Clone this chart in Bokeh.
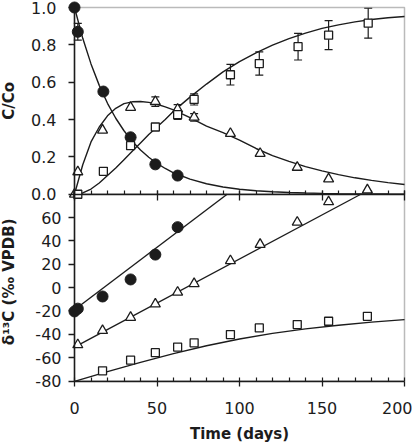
import math
from bokeh.plotting import figure
from bokeh.models import (Range1d, FixedTicker, PrintfTickFormatter, Whisker, TeeHead,
                          ColumnDataSource, Label, LinearAxis, BoxAnnotation)
from bokeh.embed import file_html
from bokeh.resources import INLINE

# ---------------- data ----------------
# top panel: C/Co
t_circ_top = [0, 2, 17.5, 34, 49, 62.5]
c_circ = [1.0, 0.87, 0.55, 0.305, 0.16, 0.10]
c_circ_err = [0, 0.045, 0, 0, 0, 0]

t_tri_top = [0, 2, 17, 34, 49, 62.5, 72.5, 94.5, 112.5, 135, 154, 177.5]
c_tri = [0.0, 0.12, 0.343, 0.465, 0.496, 0.455, 0.412, 0.325, 0.218, 0.144, 0.082, 0.023]
c_tri_err = [0, 0, 0, 0, 0.025, 0.025, 0.02, 0, 0, 0, 0, 0]

t_sq_top = [2, 17.5, 34, 49, 62.5, 72.5, 94.5, 112, 135.5, 154, 178]
c_sq = [0.0, 0.123, 0.26, 0.36, 0.426, 0.508, 0.64, 0.70, 0.79, 0.852, 0.916]
c_sq_err = [0, 0, 0, 0, 0.025, 0.03, 0.055, 0.062, 0.071, 0.078, 0.08]

# model curves
t_fit = [0, 5, 10, 15, 20, 25, 30, 35, 40, 45, 50, 55, 60,
         70, 80, 90, 100, 110, 120, 130, 140, 150, 160, 170, 180, 190, 200]
fit_circ = [1.0, 0.835, 0.698, 0.583, 0.487, 0.407, 0.340, 0.284, 0.237, 0.198, 0.165, 0.138, 0.115,
            0.081, 0.056, 0.039, 0.027, 0.019, 0.013, 0.009, 0.0065, 0.0045, 0.003, 0.002, 0.0015, 0.001, 0.0007]
fit_tri = [0.0, 0.158, 0.28, 0.36, 0.42, 0.46, 0.485, 0.495, 0.497, 0.492, 0.482, 0.468, 0.452,
           0.41, 0.365, 0.33, 0.29, 0.245, 0.207, 0.176, 0.148, 0.125, 0.105, 0.088, 0.074, 0.062, 0.052]
fit_sq = [0.0, 0.007, 0.028, 0.06, 0.10, 0.14, 0.185, 0.23, 0.275, 0.32, 0.36, 0.40, 0.445,
          0.52, 0.59, 0.655, 0.71, 0.757, 0.798, 0.833, 0.863, 0.888, 0.907, 0.923, 0.936, 0.945, 0.952]

# bottom panel: delta13C (permil VPDB)
t_circ_bot = [0, 2, 17, 34, 49, 62.5]
d_circ = [-20.4, -18.0, -7.6, 7.0, 28.3, 51.8]
t_tri_bot = [2, 17, 34, 49, 62.5, 72.5, 94.5, 112.5, 135, 154]
d_tri = [-49.0, -36.8, -25.5, -14.1, -4.0, 3.4, 23.0, 37.0, 56.0, 73.5]
t_sq_bot = [17, 34, 49, 62.5, 72.5, 94.5, 112, 135, 154, 177.5]
d_sq = [-71.3, -62.2, -55.7, -50.9, -47.3, -40.2, -34.5, -31.7, -28.8, -24.6]

t_fit_circ_bot = [0, 92.5]
fit_circ_bot = [-19.0, 80.0]
t_fit_tri_bot = [0, 173.5]
fit_tri_bot = [-51.0, 80.0]
t_fit_sq_bot = [0, 20, 40, 60, 80, 100, 120, 140, 160, 180, 200]
fit_sq_bot = [-80.3, -72.0, -64.0, -56.5, -49.8, -44.0, -39.2, -35.3, -32.2, -29.6, -27.4]

x_ticks = [0, 50, 100, 150, 200]
x_minor = list(range(0, 201, 10))
c_ticks = [0.0, 0.2, 0.4, 0.6, 0.8, 1.0]
d_ticks = [-80, -60, -40, -20, 0, 20, 40, 60]

T_MIN, T_MAX = 0, 200
C_MIN, C_MAX = 0.0, 1.0
D_MIN, D_MAX = -80, 80

# ---------------- layout (pixels) ----------------
W, H = 412, 445
PX_L, PX_R = 74, 404          # left / right edges of the panels
PX_T, PX_B = 7, 380.5         # top of upper panel, bottom of lower panel
PX_MID = (PX_T + PX_B) / 2    # shared border of the two panels

FONT = "DejaVu Sans"
INK = "#1c1c1c"

# ranges so that the whole canvas is the frame, panels placed at the pixel edges above
sx = (PX_R - PX_L) / (T_MAX - T_MIN)
x_start = T_MIN - PX_L / sx
x_end = x_start + W / sx
sy_d = (PX_B - PX_MID) / (D_MAX - D_MIN)
d_start = D_MIN - (H - PX_B) / sy_d
d_end = D_MAX + PX_MID / sy_d
sy_c = (PX_MID - PX_T) / (C_MAX - C_MIN)
c_start = C_MIN - (H - PX_MID) / sy_c
c_end = C_MAX + PX_T / sy_c

p = figure(width=W, height=H, x_range=Range1d(x_start, x_end), y_range=Range1d(d_start, d_end),
           output_backend="svg", toolbar_location=None, min_border=0,
           x_axis_location=None, y_axis_location=None, title=None)
p.extra_y_ranges = {"c": Range1d(c_start, c_end)}
p.xgrid.visible = False
p.ygrid.visible = False
p.outline_line_color = None
p.background_fill_color = "white"
p.border_fill_color = "white"


def style_axis(ax):
    ax.axis_line_color = INK
    ax.axis_line_width = 1.5
    ax.major_tick_line_color = INK
    ax.major_tick_line_width = 1.3
    ax.minor_tick_line_color = INK
    ax.minor_tick_line_width = 1.2
    ax.major_label_text_font = FONT
    ax.major_label_text_font_size = "16px"
    ax.major_label_text_color = INK
    ax.minor_tick_in = 0
    ax.minor_tick_out = 0
    ax.major_tick_in = 0
    ax.major_tick_out = 0


# panel borders
p.add_layout(BoxAnnotation(left=T_MIN, right=T_MAX, bottom=C_MIN, top=C_MAX, y_range_name="c",
                           fill_alpha=0, line_color=INK, line_width=1.5, level="underlay"))
p.add_layout(BoxAnnotation(left=T_MIN, right=T_MAX, bottom=D_MIN, top=D_MAX,
                           fill_alpha=0, line_color=INK, line_width=1.5, level="underlay"))

# left axes
ax_c = LinearAxis(y_range_name="c", fixed_location=T_MIN, bounds=(C_MIN, C_MAX),
                  ticker=FixedTicker(ticks=c_ticks), formatter=PrintfTickFormatter(format="%.1f"))
style_axis(ax_c)
ax_c.major_tick_out = 6
ax_c.major_label_standoff = 12
p.add_layout(ax_c, "left")

ax_d = LinearAxis(fixed_location=T_MIN, bounds=(D_MIN, D_MAX),
                  ticker=FixedTicker(ticks=d_ticks), formatter=PrintfTickFormatter(format="%d"))
style_axis(ax_d)
ax_d.major_tick_out = 6
ax_d.major_label_standoff = 7
p.add_layout(ax_d, "left")

# bottom axis
ax_t = LinearAxis(fixed_location=D_MIN, bounds=(T_MIN, T_MAX),
                  ticker=FixedTicker(ticks=x_ticks, minor_ticks=x_minor))
style_axis(ax_t)
ax_t.major_tick_out = 5
ax_t.minor_tick_in = 4
ax_t.major_label_standoff = 16
p.add_layout(ax_t, "below")

# shared border between the panels: minor ticks up, major ticks both ways
ax_mid_minor = LinearAxis(fixed_location=D_MAX, bounds=(T_MIN, T_MAX),
                          ticker=FixedTicker(ticks=[], minor_ticks=x_minor))
style_axis(ax_mid_minor)
ax_mid_minor.minor_tick_in = 4
p.add_layout(ax_mid_minor, "below")
ax_mid_major = LinearAxis(fixed_location=D_MAX, bounds=(T_MIN, T_MAX),
                          ticker=FixedTicker(ticks=[], minor_ticks=x_ticks))
style_axis(ax_mid_major)
ax_mid_major.axis_line_color = None
ax_mid_major.minor_tick_in = 4
ax_mid_major.minor_tick_out = 6
ax_mid_major.minor_tick_line_width = 1.3
p.add_layout(ax_mid_major, "below")


def add_err(t, y, e, **kw):
    idx = [i for i, v in enumerate(e) if v > 0]
    src = ColumnDataSource(dict(base=[t[i] for i in idx],
                                lower=[y[i] - e[i] for i in idx],
                                upper=[y[i] + e[i] for i in idx]))
    w = Whisker(source=src, base="base", lower="lower", upper="upper", level="underlay",
                line_color=INK, line_width=1.2,
                upper_head=TeeHead(size=8, line_color=INK, line_width=1.2),
                lower_head=TeeHead(size=8, line_color=INK, line_width=1.2), **kw)
    p.add_layout(w)


# ---------------- top panel marks ----------------
for ys in (fit_circ, fit_tri, fit_sq):
    p.line(t_fit, ys, line_color=INK, line_width=1.4, y_range_name="c")
add_err(t_circ_top, c_circ, c_circ_err, y_range_name="c")
add_err(t_tri_top, c_tri, c_tri_err, y_range_name="c")
add_err(t_sq_top, c_sq, c_sq_err, y_range_name="c")
p.scatter(t_circ_top, c_circ, marker="circle", size=11, fill_color=INK, line_color=INK,
          y_range_name="c")
p.scatter(t_tri_top, c_tri, marker="triangle", size=10, fill_color="white",
          line_color=INK, line_width=1.3, y_range_name="c")
p.scatter(t_sq_top, c_sq, marker="square", size=8, fill_color="white",
          line_color=INK, line_width=1.3, y_range_name="c")

# ---------------- bottom panel marks ----------------
p.line(t_fit_circ_bot, fit_circ_bot, line_color=INK, line_width=1.4)
p.line(t_fit_tri_bot, fit_tri_bot, line_color=INK, line_width=1.4)
p.line(t_fit_sq_bot, fit_sq_bot, line_color=INK, line_width=1.4)
p.scatter(t_circ_bot, d_circ, marker="circle", size=11, fill_color=INK, line_color=INK)
p.scatter(t_tri_bot, d_tri, marker="triangle", size=10, fill_color="white",
          line_color=INK, line_width=1.3)
p.scatter(t_sq_bot, d_sq, marker="square", size=8, fill_color="white",
          line_color=INK, line_width=1.3)

# ---------------- axis titles ----------------
title_kw = dict(text_font=FONT, text_font_style="bold", text_font_size="15px", text_color=INK)
p.add_layout(Label(x=T_MIN, y=(C_MIN + C_MAX) / 2, y_range_name="c", x_offset=-66,
                   text="C/Co", angle=math.pi / 2, text_align="center",
                   text_baseline="middle", **title_kw))
p.add_layout(Label(x=T_MIN, y=5, x_offset=-66, text="δ¹³C (‰ VPDB)", angle=math.pi / 2,
                   text_align="center", text_baseline="middle", **title_kw))
p.add_layout(Label(x=(T_MIN + T_MAX) / 2, y=D_MIN, y_offset=-44, text="Time (days)",
                   text_align="center", text_baseline="top", **title_kw))

open("out.html", "w").write(file_html(p, INLINE))
